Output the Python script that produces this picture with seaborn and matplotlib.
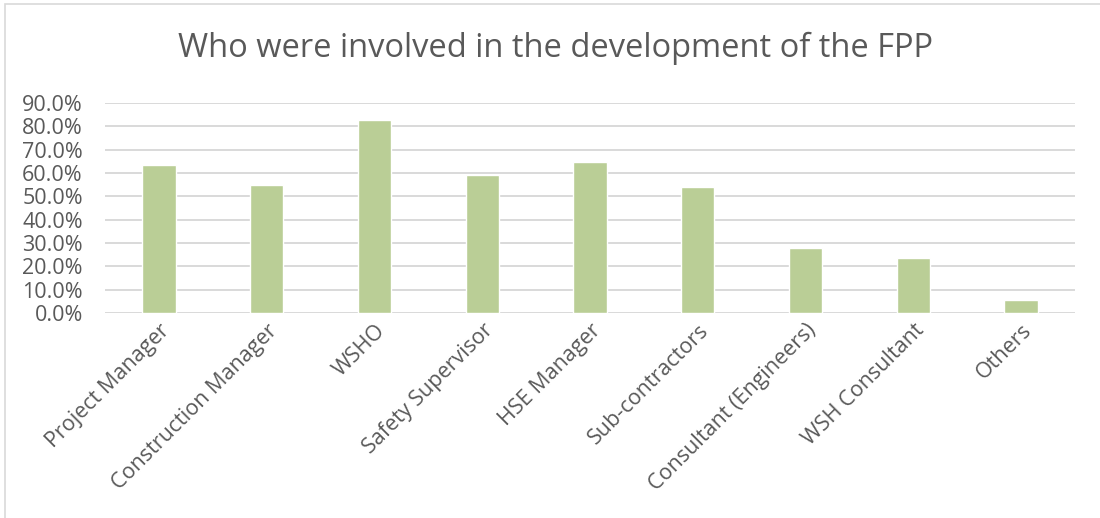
import pandas as pd
import seaborn as sns
import matplotlib.pyplot as plt
from matplotlib.patches import Rectangle
from matplotlib.ticker import PercentFormatter

roles = ["Project Manager", "Construction Manager", "WSHO", "Safety Supervisor",
         "HSE Manager", "Sub-contractors", "Consultant (Engineers)",
         "WSH Consultant", "Others"]
shares = [0.634, 0.549, 0.827, 0.591, 0.646, 0.539, 0.280, 0.237, 0.056]

df = pd.DataFrame({"role": roles, "share": shares})

sns.set_theme(style="white")
plt.rcParams['font.family'] = ['Open Sans', 'DejaVu Sans']

fig = plt.figure(figsize=(11, 5.18), dpi=100)
ax = fig.add_axes([105 / 1100, 1 - 313 / 518, 970 / 1100, 210 / 518])

sns.barplot(data=df, x="role", y="share", color="#BACE96", saturation=1,
            width=0.31, ax=ax, zorder=3)

ax.set_ylim(0, 0.9)
ax.set_yticks([i / 10 for i in range(10)])
ax.yaxis.set_major_formatter(PercentFormatter(1.0, decimals=1))
ax.grid(axis="y", color="#D9D9D9", linewidth=1.4, zorder=0)
ax.set_axisbelow(True)
for s in ax.spines.values():
    s.set_visible(False)
ax.set_xlabel("")
ax.set_ylabel("")
ax.tick_params(axis="both", length=0, labelsize=15.5, labelcolor="#595959")
ax.tick_params(axis="y", pad=16)
ax.tick_params(axis="x", pad=5)
plt.setp(ax.get_xticklabels(), rotation=45, ha="right", rotation_mode="anchor")

fig.text(0.505, 1 - 48 / 518, "Who were involved in the development of the FPP",
         ha="center", va="center", fontsize=23.5, color="#595959")

fig.patches.append(Rectangle((5 / 1100, -0.05), 1.2, 1 - 4 / 518 + 0.05,
                             transform=fig.transFigure, fill=False,
                             edgecolor="#D9D9D9", linewidth=1.2))

fig.savefig("out.png", dpi=100)
